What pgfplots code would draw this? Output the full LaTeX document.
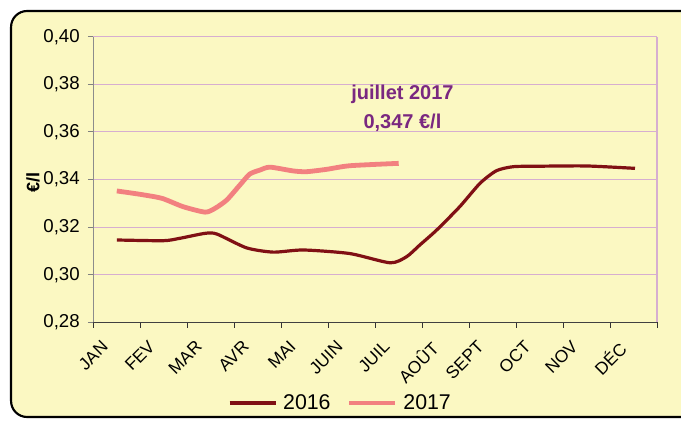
\documentclass[border=0pt]{standalone}
\usepackage{pgfplots}
\pgfplotsset{compat=1.18}
\usepackage{fontspec}
\setmainfont{Liberation Sans}
\definecolor{cream}{RGB}{251,248,194}
\definecolor{gridc}{RGB}{214,174,208}
\definecolor{cA}{RGB}{128,16,20}
\definecolor{cB}{RGB}{242,128,128}
\definecolor{annot}{RGB}{122,40,128}
\begin{document}
\begin{tikzpicture}
\useasboundingbox (-70pt,-74pt) rectangle (440.75pt,241.75pt);
\filldraw[fill=cream, draw=black, line width=1.6pt, rounded corners=12pt] (-61.7pt,-71pt) rectangle (470pt,233.5pt);
\begin{axis}[
  scale only axis, width=422.8pt, height=214.2pt,
  at={(0pt,0pt)}, anchor=south west,
  xmin=0, xmax=12, ymin=0.28, ymax=0.40,
  axis x line*=bottom, axis y line*=left,
  x axis line style={-, draw=black!75, line width=0.9pt},
  y axis line style={-, draw=black!45, line width=0.9pt},
  xtick={0,...,12},
  xticklabels={JAN,FEV,MAR,AVR,MAI,JUIN,JUIL,AOÛT,SEPT,OCT,NOV,DÉC},
  x tick label as interval,
  ytick={0.28,0.30,0.32,0.34,0.36,0.38,0.40},
  tick align=outside, major tick length=4pt,
  x tick style={black!80, line width=0.8pt},
  y tick style={black!50, line width=0.8pt},
  ymajorgrids, grid style={gridc, line width=0.8pt},
  /pgf/number format/.cd, fixed, fixed zerofill, precision=2, use comma, assume math mode=true,
  /pgfplots/.cd,
  yticklabel style={font=\fontsize{14}{16}\selectfont, inner sep=0pt, xshift=-6pt},
  xticklabel style={font=\fontsize{13}{15}\selectfont, rotate=45, anchor=north east, inner sep=0pt, xshift=-14.8pt, yshift=2.5pt},
  ylabel={€/l},
  ylabel style={font=\bfseries\fontsize{13.5}{15}\selectfont, at={(axis description cs:-0.107,0.488)}, anchor=center},
  legend style={at={(axis description cs:0.4377,-0.2826)}, anchor=center, draw=none, fill=none,
    font=\fontsize{16}{18}\selectfont,
    nodes={inner xsep=1pt},
    /tikz/every odd column/.append style={column sep=3.5pt},
    /tikz/every even column/.append style={column sep=11pt}},
  legend columns=2,
  legend image code/.code={\draw[#1] (0pt,0pt) -- (34.5pt,0pt);},
  clip=false,
]
\addplot[cA, line width=2.4pt, smooth, tension=0.4, line join=round] coordinates {
(0.5,0.3146) (1.49,0.3143) (1.84,0.3153) (2.38,0.3174) (2.63,0.3171) (3.26,0.3113)
(3.83,0.3095) (4.47,0.3104) (5.46,0.3089) (6.32,0.3050) (6.67,0.3076) (6.95,0.3125)
(7.31,0.3188) (7.80,0.3286) (8.23,0.3384) (8.58,0.3437) (8.94,0.3454) (9.5,0.3456)
(10.5,0.3457) (11.53,0.3447)
};
\addlegendentry{2016}
\addplot[cB, line width=3.6pt, smooth, tension=0.4, line join=round] coordinates {
(0.5,0.3352) (0.99,0.3338) (1.46,0.3321) (1.91,0.3286) (2.38,0.3263) (2.59,0.3279)
(2.84,0.3314) (3.12,0.3377) (3.33,0.3423) (3.55,0.3440) (3.76,0.3452) (4.26,0.3436)
(4.54,0.3433) (4.97,0.3443) (5.46,0.3458) (6.5,0.3468)
};
\addlegendentry{2017}
\draw[gridc, line width=0.9pt] (rel axis cs:1,0) -- (rel axis cs:1,1);
\node[font=\bfseries\fontsize{15}{21.75}\selectfont, text=annot, align=center] at (axis cs:6.58,0.3698) {juillet 2017\\0,347 €/l};
\end{axis}
\end{tikzpicture}
\end{document}
